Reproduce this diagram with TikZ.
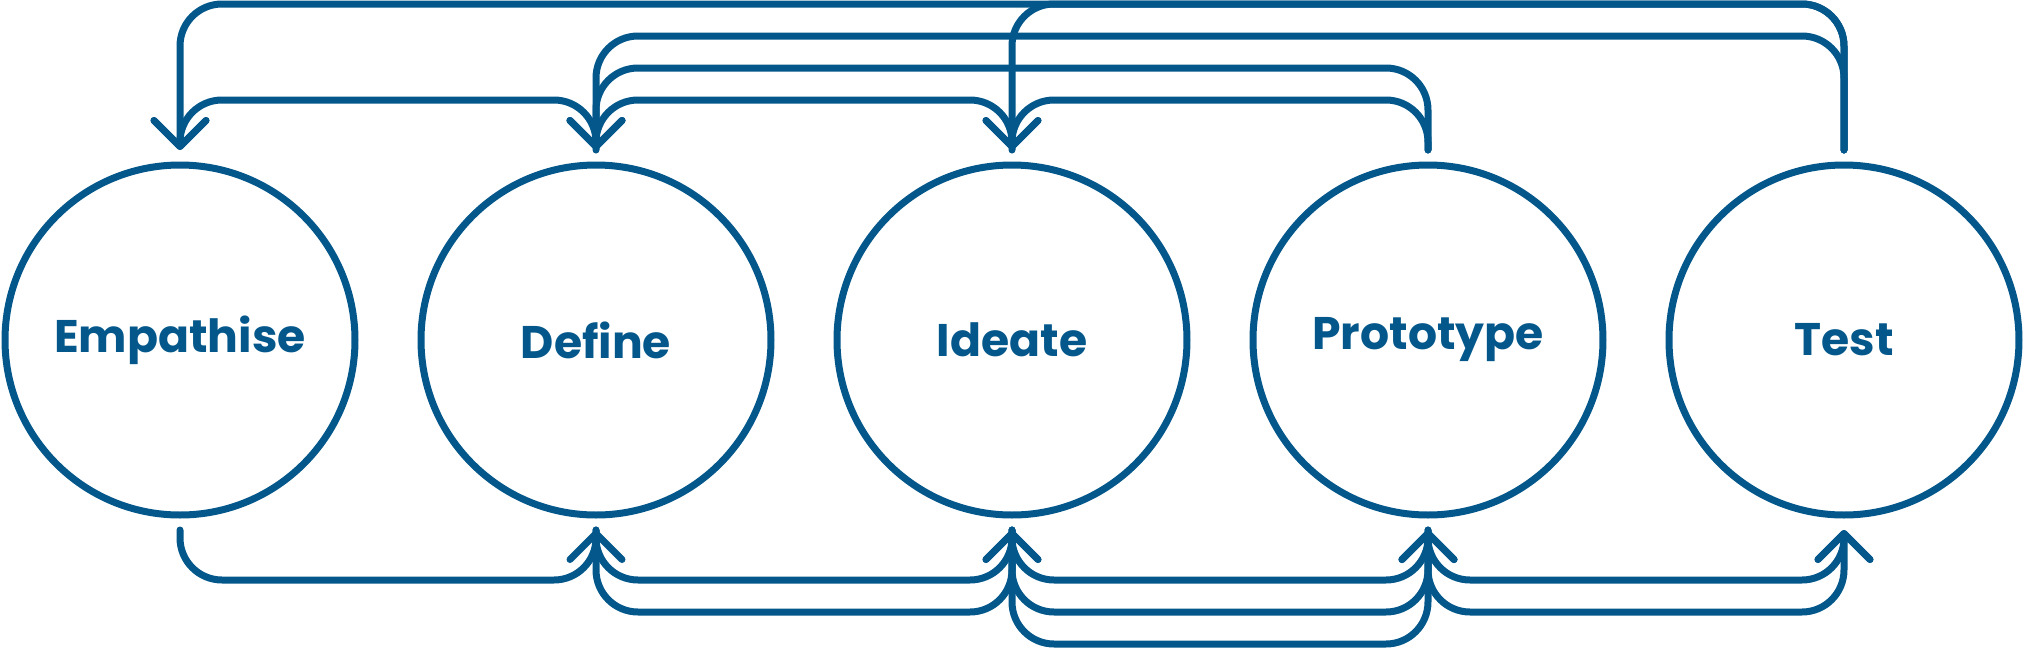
\documentclass[tikz,border=0pt]{standalone}
\usepackage{fontspec}
\usepackage{xcolor}
\usepackage{tikz}
\usetikzlibrary{arrows.meta,positioning}
\newfontfamily\stagefont{Poppins}
\definecolor{stageblue}{HTML}{03578A}

\begin{document}
\begin{tikzpicture}[x=0.1mm, y=0.1mm, node distance=41.6mm,
  stage/.style={circle, draw=stageblue, line width=0.7mm, minimum size=35mm, inner sep=0pt, outer sep=0pt, text=stageblue, font=\stagefont\bfseries\fontsize{13}{15}\selectfont},
  flow/.style={draw=stageblue, line width=0.7mm, line cap=round, line join=round, rounded corners=4.2mm},
  tip/.style={-{Straight Barb[length=2.6mm, width=5.2mm, round]}}]
\useasboundingbox (0,0) rectangle (2024,648);
\node[stage] (emp) at (180,308) {Empathise};
\node[stage, right of=emp] (def) {Define};
\node[stage, right of=def] (ide) {Ideate};
\node[stage, right of=ide] (pro) {Prototype};
\node[stage, right of=pro] (tst) {Test};
% ends of the connectors above and below each circle
\coordinate (emp-t) at ([yshift=1.5mm]emp.north);
\coordinate (def-t) at ([yshift=1.5mm]def.north);
\coordinate (ide-t) at ([yshift=1.5mm]ide.north);
\coordinate (pro-t) at ([yshift=1.5mm]pro.north);
\coordinate (tst-t) at ([yshift=1.5mm]tst.north);
\coordinate (emp-b) at ([yshift=-1.5mm]emp.south);
\coordinate (def-b) at ([yshift=-1.5mm]def.south);
\coordinate (ide-b) at ([yshift=-1.5mm]ide.south);
\coordinate (pro-b) at ([yshift=-1.5mm]pro.south);
\coordinate (tst-b) at ([yshift=-1.5mm]tst.south);
% back loops over the top
\draw[flow, tip] (tst-t) -- ++(0,146) -| (emp-t);
\draw[flow, tip] (tst-t) -- ++(0,146) -| (ide-t);
\draw[flow, tip] (tst-t) -- ++(0,114) -| (def-t);
\draw[flow, tip] (pro-t) -- ++(0,82) -| (def-t);
\draw[flow, tip] (pro-t) -- ++(0,50) -| (ide-t);
\draw[flow, tip] (ide-t) -- ++(0,50) -| (def-t);
\draw[flow, tip] (def-t) -- ++(0,50) -| (emp-t);
% forward steps underneath
\draw[flow, tip] (emp-b) -- ++(0,-50) -| (def-b);
\draw[flow, tip] (def-b) -- ++(0,-50) -| (ide-b);
\draw[flow, tip] (ide-b) -- ++(0,-50) -| (pro-b);
\draw[flow, tip] (pro-b) -- ++(0,-50) -| (tst-b);
\draw[flow, tip] (def-b) -- ++(0,-82) -| (ide-b);
\draw[flow, tip] (ide-b) -- ++(0,-82) -| (pro-b);
\draw[flow, tip] (pro-b) -- ++(0,-82) -| (tst-b);
\draw[flow, tip] (ide-b) -- ++(0,-114) -| (pro-b);
\end{tikzpicture}
\end{document}
